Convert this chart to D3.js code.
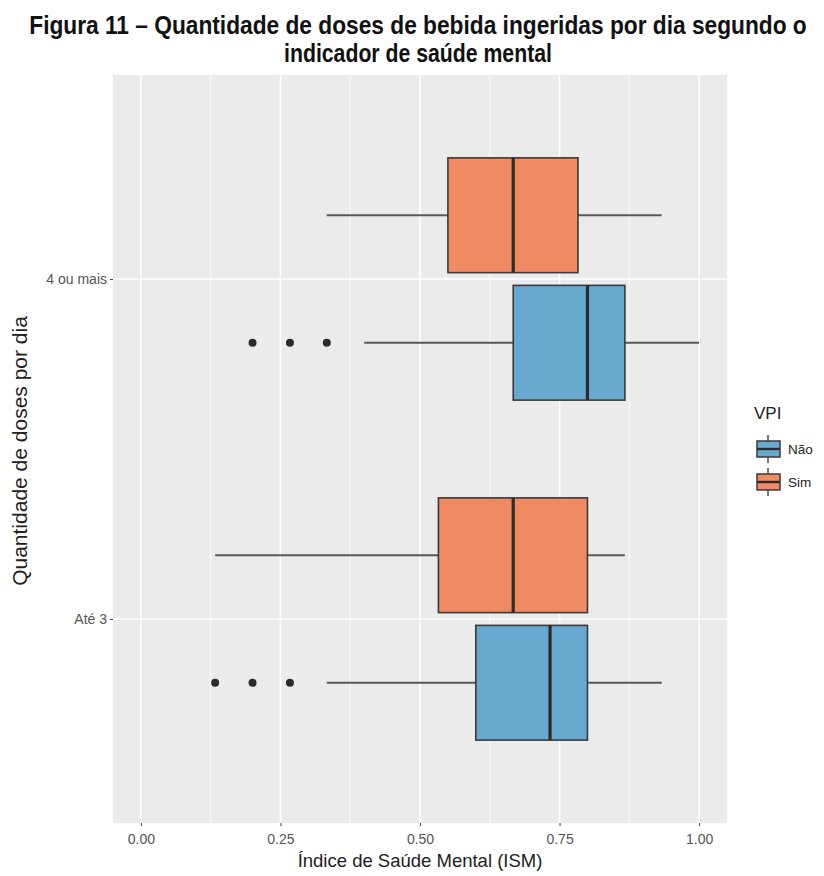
<!DOCTYPE html>
<html>
<head>
<meta charset="utf-8">
<script src="https://cdn.jsdelivr.net/npm/d3@7"></script>
<style>
  html, body { margin: 0; padding: 0; background: #fff; }
  svg { display: block; }
</style>
</head>
<body>
<svg id="chart" width="824" height="876"></svg>
<script>
// Categories on the vertical axis, bottom to top
const categories = ["Até 3", "4 ou mais"];
// Legend groups (VPI)
const groups = ["Não", "Sim"];
const groupColors = ["#67A9CF", "#EF8A62"];

// Box statistics per category: [lower whisker, Q1, median, Q3, upper whisker]
const naoStats = [
  [0.333, 0.600, 0.733, 0.800, 0.933],
  [0.400, 0.667, 0.800, 0.867, 1.000]
];
const simStats = [
  [0.133, 0.533, 0.667, 0.800, 0.867],
  [0.333, 0.550, 0.667, 0.783, 0.933]
];
// Outlying observations per category
const naoOutliers = [
  [0.133, 0.200, 0.267],
  [0.200, 0.267, 0.333]
];
const simOutliers = [[], []];

const xTicks = [0, 0.25, 0.5, 0.75, 1];
const xMinor = [0.125, 0.375, 0.625, 0.875];

const titleLines = [
  "Figura 11 – Quantidade de doses de bebida ingeridas por dia segundo o",
  "indicador de saúde mental"
];
const xTitle = "Índice de Saúde Mental (ISM)";
const yTitle = "Quantidade de doses por dia";
const legendTitle = "VPI";

const statsByGroup = [naoStats, simStats];
const outliersByGroup = [naoOutliers, simOutliers];

const svg = d3.select("#chart");
const panel = { left: 113, right: 727, top: 75, bottom: 823 };
const font = "Liberation Sans, Arial, sans-serif";

const x = d3.scaleLinear().domain([-0.05, 1.05]).range([panel.left, panel.right]);
const y = d3.scaleLinear().domain([-0.6, categories.length - 1 + 0.6]).range([panel.bottom, panel.top]);

// dodge: two slots of 0.375 each, boxes padded to 90%
const slot = 0.375;
const offsets = [-slot / 2, slot / 2];
const halfBox = slot * 0.9 / 2;

// Panel background
svg.append("rect")
  .attr("x", panel.left).attr("y", panel.top)
  .attr("width", panel.right - panel.left).attr("height", panel.bottom - panel.top)
  .attr("fill", "#EBEBEB");

const grid = svg.append("g");
grid.selectAll(".minor").data(xMinor).join("line")
  .attr("x1", d => x(d)).attr("x2", d => x(d))
  .attr("y1", panel.top).attr("y2", panel.bottom)
  .attr("stroke", "#fff").attr("stroke-width", 0.8);
grid.selectAll(".majorx").data(xTicks).join("line")
  .attr("x1", d => x(d)).attr("x2", d => x(d))
  .attr("y1", panel.top).attr("y2", panel.bottom)
  .attr("stroke", "#fff").attr("stroke-width", 1.6);
grid.selectAll(".majory").data(d3.range(categories.length)).join("line")
  .attr("x1", panel.left).attr("x2", panel.right)
  .attr("y1", d => y(d)).attr("y2", d => y(d))
  .attr("stroke", "#fff").attr("stroke-width", 1.6);

// Boxplots
const plot = svg.append("g");
groups.forEach((g, gi) => {
  statsByGroup[gi].forEach((s, ci) => {
    const cy = ci + offsets[gi];
    const [lo, q1, med, q3, hi] = s;
    const gg = plot.append("g");
    gg.append("line")
      .attr("x1", x(lo)).attr("x2", x(q1)).attr("y1", y(cy)).attr("y2", y(cy))
      .attr("stroke", "#595959").attr("stroke-width", 1.8);
    gg.append("line")
      .attr("x1", x(q3)).attr("x2", x(hi)).attr("y1", y(cy)).attr("y2", y(cy))
      .attr("stroke", "#595959").attr("stroke-width", 1.8);
    gg.append("rect")
      .attr("x", x(q1)).attr("width", x(q3) - x(q1))
      .attr("y", y(cy + halfBox)).attr("height", y(cy - halfBox) - y(cy + halfBox))
      .attr("fill", groupColors[gi]).attr("stroke", "#3a3a3a").attr("stroke-width", 1.6);
    gg.append("line")
      .attr("x1", x(med)).attr("x2", x(med))
      .attr("y1", y(cy + halfBox)).attr("y2", y(cy - halfBox))
      .attr("stroke", "#2b2b2b").attr("stroke-width", 3.2);
    gg.selectAll("circle").data(outliersByGroup[gi][ci]).join("circle")
      .attr("cx", d => x(d)).attr("cy", y(cy)).attr("r", 4)
      .attr("fill", "#2b2b2b");
  });
});

// Axes
const xAxis = d3.axisBottom(x).tickValues(xTicks).tickFormat(d3.format(".2f")).tickSize(3).tickPadding(8);
const xg = svg.append("g").attr("transform", `translate(0,${panel.bottom})`).call(xAxis);
xg.select(".domain").remove();
xg.selectAll(".tick line").attr("stroke", "#444");
xg.selectAll(".tick text").attr("fill", "#555").attr("font-size", 14)
  .attr("font-family", font);

const yAxis = d3.axisLeft(y).tickValues(d3.range(categories.length)).tickFormat(i => categories[i]).tickSize(3).tickPadding(3);
const yg = svg.append("g").attr("transform", `translate(${panel.left},0)`).call(yAxis);
yg.select(".domain").remove();
yg.selectAll(".tick line").attr("stroke", "#444");
yg.selectAll(".tick text").attr("fill", "#555").attr("font-size", 14)
  .attr("font-family", font);

// Axis titles
svg.append("text")
  .attr("x", (panel.left + panel.right) / 2).attr("y", 867)
  .attr("text-anchor", "middle").attr("font-size", 18.5).attr("fill", "#222")
  .attr("font-family", font)
  .text(xTitle);
svg.append("text")
  .attr("transform", `translate(27,${451}) rotate(-90)`)
  .attr("text-anchor", "middle").attr("font-size", 21).attr("fill", "#222")
  .attr("font-family", font)
  .text(yTitle);

// Title: condensed bold lines, squeezed horizontally to their set widths
const titleWidths = [778, 268];
const titleCenter = 418;
titleLines.forEach((t, i) => {
  const tg = svg.append("g");
  const txt = tg.append("text")
    .attr("x", 0).attr("y", 0)
    .attr("text-anchor", "middle")
    .attr("font-size", 25).attr("font-weight", "bold").attr("fill", "#111")
    .attr("font-family", "Liberation Sans Narrow, Arial Narrow, Liberation Sans, sans-serif")
    .text(t);
  const natural = txt.node().getComputedTextLength();
  const sx = natural > 0 ? titleWidths[i] / natural : 1;
  tg.attr("transform", `translate(${titleCenter},${34 + i * 28}) scale(${sx},1)`);
});

// Legend
const legend = svg.append("g").attr("transform", "translate(752,0)");
legend.append("text")
  .attr("x", 2).attr("y", 419)
  .attr("font-size", 17).attr("fill", "#222")
  .attr("font-family", font)
  .text(legendTitle);
groups.forEach((g, gi) => {
  const cy = 449 + gi * 33;
  const k = legend.append("g");
  k.append("line").attr("x1", 16).attr("x2", 16).attr("y1", cy - 14).attr("y2", cy + 14)
    .attr("stroke", "#595959").attr("stroke-width", 1.6);
  k.append("rect").attr("x", 5).attr("y", cy - 8).attr("width", 23).attr("height", 16)
    .attr("fill", groupColors[gi]).attr("stroke", "#3a3a3a").attr("stroke-width", 1.5);
  k.append("line").attr("x1", 5).attr("x2", 28).attr("y1", cy).attr("y2", cy)
    .attr("stroke", "#2b2b2b").attr("stroke-width", 2.4);
  k.append("text").attr("x", 36).attr("y", cy + 5)
    .attr("font-size", 13.5).attr("fill", "#222")
    .attr("font-family", font)
    .text(g);
});
</script>
</body>
</html>
